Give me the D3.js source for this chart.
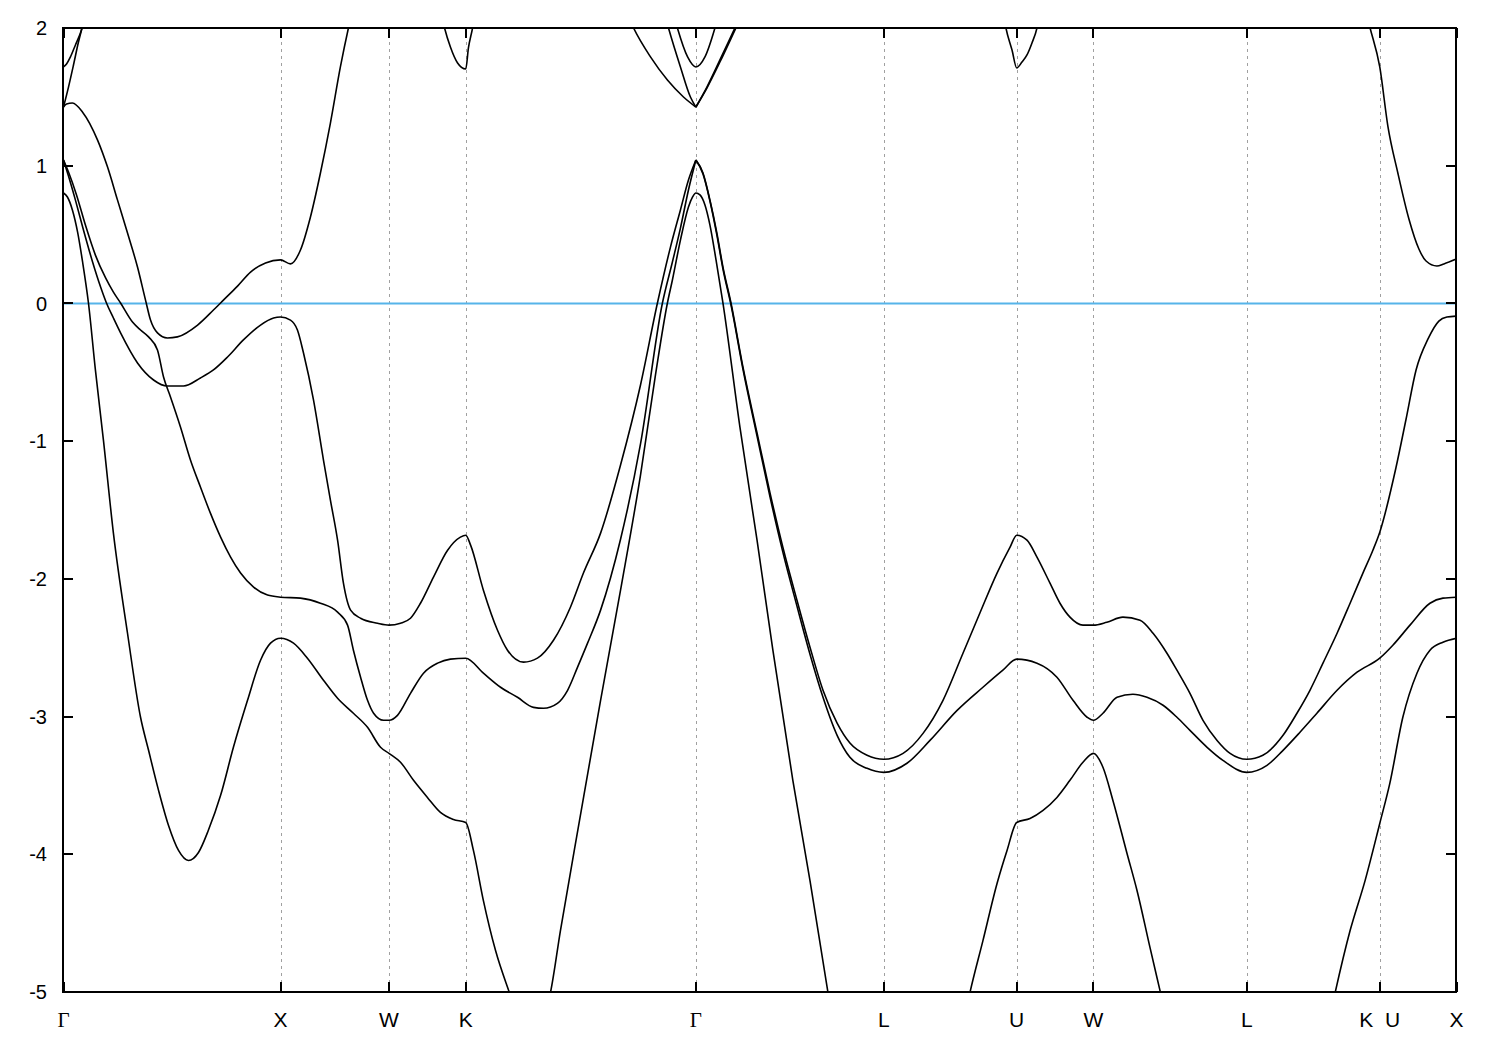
<!DOCTYPE html>
<html>
<head>
<meta charset="utf-8">
<script src="https://cdn.jsdelivr.net/npm/d3@7"></script>
<style>
  html, body { margin: 0; padding: 0; background: #fff; }
  svg { display: block; }
</style>
</head>
<body>
<script>
// ---------------- DATA ----------------
// High-symmetry points along the k-path (units of 2*pi/a)
const highSymK = [0, 1, 1.5, 1.8536, 2.9142, 3.7802, 4.3926, 4.7462, 5.4533, 6.0657, 6.4193];
const highSymLabels = ["Γ", "X", "W", "K", "Γ", "L", "U", "W", "L", "K\u00a0\u00a0U", "X"];
const energyTicks = [-5, -4, -3, -2, -1, 0, 1, 2];
const fermiLevel = 0;

// Bands: [k, E(eV)]
const bandTopA = [[0,1.717],[0.014,1.739],[0.032,1.790],[0.055,1.877],[0.078,1.964],[0.097,2.058]];
const bandTopB = [[0,1.426],[0.023,1.571],[0.046,1.731],[0.069,1.898],[0.083,1.985],[0.092,2.043]];
const bandUpper = [[0,1.426],[0.014,1.448],[0.041,1.455],[0.088,1.389],[0.157,1.186],[0.203,0.990],[0.249,0.750],[0.295,0.511],[0.341,0.264],[0.378,0.024],[0.401,-0.121],[0.433,-0.214],[0.479,-0.251],[0.525,-0.243],[0.618,-0.157],[0.691,-0.048],[0.737,0.024],[0.802,0.126],[0.862,0.228],[0.931,0.294],[1.0,0.316],[1.046,0.287],[1.092,0.388],[1.138,0.628],[1.184,0.947],[1.230,1.310],[1.276,1.717],[1.313,2.000],[1.332,2.131]];
const bandB = [[0,1.041],[0.023,0.925],[0.055,0.750],[0.092,0.533],[0.134,0.301],[0.171,0.119],[0.198,0.003],[0.230,-0.106],[0.263,-0.214],[0.341,-0.432],[0.415,-0.556],[0.479,-0.600],[0.553,-0.600],[0.631,-0.541],[0.691,-0.483],[0.756,-0.389],[0.829,-0.265],[0.908,-0.157],[0.968,-0.106],[1.0,-0.099],[1.046,-0.121],[1.078,-0.193],[1.106,-0.360],[1.152,-0.701],[1.198,-1.137],[1.230,-1.428],[1.263,-1.719],[1.290,-2.031],[1.323,-2.227],[1.369,-2.286],[1.447,-2.322],[1.5,-2.336],[1.553,-2.322],[1.599,-2.286],[1.645,-2.177],[1.705,-1.987],[1.770,-1.792],[1.829,-1.697],[1.8536,-1.683],[1.876,-1.755],[1.935,-2.082],[2.0,-2.373],[2.046,-2.518],[2.120,-2.605],[2.184,-2.576],[2.258,-2.446],[2.336,-2.206],[2.396,-1.958],[2.475,-1.668],[2.567,-1.173],[2.659,-0.592],[2.737,0.003],[2.797,0.409],[2.843,0.679],[2.880,0.896],[2.9142,1.041]];
const bandC = [[0,1.041],[0.023,0.954],[0.060,0.788],[0.101,0.569],[0.147,0.351],[0.194,0.185],[0.230,0.082],[0.263,0.003],[0.318,-0.135],[0.355,-0.193],[0.392,-0.243],[0.433,-0.338],[0.461,-0.534],[0.493,-0.679],[0.539,-0.897],[0.585,-1.137],[0.631,-1.333],[0.677,-1.523],[0.724,-1.697],[0.770,-1.842],[0.816,-1.958],[0.876,-2.060],[0.940,-2.118],[1.0,-2.133],[1.092,-2.140],[1.184,-2.177],[1.263,-2.242],[1.309,-2.336],[1.336,-2.518],[1.369,-2.714],[1.401,-2.882],[1.429,-2.976],[1.475,-3.027],[1.5,-3.027],[1.539,-2.991],[1.599,-2.831],[1.659,-2.685],[1.724,-2.612],[1.783,-2.583],[1.8536,-2.576],[1.935,-2.685],[2.014,-2.787],[2.092,-2.860],[2.166,-2.933],[2.212,-2.940],[2.276,-2.904],[2.323,-2.809],[2.369,-2.641],[2.415,-2.467],[2.475,-2.227],[2.567,-1.712],[2.659,-1.020],[2.760,0.003],[2.806,0.301],[2.843,0.547],[2.880,0.824],[2.9142,1.041]];
const bandD = [[0,0.802],[0.018,0.773],[0.041,0.679],[0.065,0.518],[0.088,0.301],[0.115,0.003],[0.147,-0.483],[0.184,-0.992],[0.230,-1.668],[0.295,-2.395],[0.355,-3.005],[0.392,-3.245],[0.438,-3.536],[0.484,-3.791],[0.530,-3.972],[0.576,-4.045],[0.622,-3.987],[0.668,-3.824],[0.724,-3.572],[0.783,-3.223],[0.848,-2.882],[0.908,-2.591],[0.954,-2.467],[1.0,-2.431],[1.060,-2.467],[1.124,-2.576],[1.198,-2.736],[1.263,-2.867],[1.336,-2.976],[1.401,-3.078],[1.461,-3.223],[1.5,-3.267],[1.553,-3.332],[1.613,-3.463],[1.677,-3.587],[1.737,-3.696],[1.797,-3.747],[1.8536,-3.769],[1.889,-3.972],[1.935,-4.336],[1.991,-4.699],[2.055,-5.005],[2.143,-5.386],[2.244,-5.005],[2.290,-4.554],[2.382,-3.718],[2.475,-2.882],[2.567,-2.082],[2.659,-1.246],[2.728,-0.519],[2.783,0.003],[2.806,0.170],[2.843,0.460],[2.880,0.700],[2.899,0.773],[2.9142,0.802],[2.933,0.788],[2.956,0.715],[2.979,0.569],[3.007,0.316],[3.039,0.003],[3.117,-0.897],[3.196,-1.719],[3.269,-2.518],[3.361,-3.463],[3.440,-4.191],[3.523,-5.005],[3.624,-5.92],[3.7802,-6.43],[3.993,-5.85],[4.131,-5.35],[4.177,-5.005],[4.237,-4.627],[4.302,-4.212],[4.348,-3.972],[4.3926,-3.769],[4.454,-3.740],[4.514,-3.681],[4.578,-3.587],[4.638,-3.463],[4.698,-3.332],[4.7462,-3.267],[4.790,-3.368],[4.836,-3.609],[4.901,-3.994],[4.947,-4.263],[5.007,-4.678],[5.053,-4.990],[5.191,-5.93],[5.4533,-6.36],[5.698,-5.78],[5.813,-5.35],[5.860,-5.005],[5.929,-4.554],[5.998,-4.191],[6.0657,-3.776],[6.112,-3.485],[6.172,-3.005],[6.237,-2.685],[6.297,-2.518],[6.357,-2.460],[6.4193,-2.431]];
const bandG = [[2.9142,1.041],[2.947,0.947],[2.979,0.750],[3.011,0.511],[3.039,0.264],[3.076,0.003],[3.131,-0.461],[3.196,-0.941],[3.256,-1.377],[3.315,-1.770],[3.380,-2.155],[3.440,-2.496],[3.500,-2.809],[3.565,-3.047],[3.624,-3.192],[3.703,-3.281],[3.7802,-3.310],[3.869,-3.267],[3.961,-3.122],[4.053,-2.882],[4.145,-2.540],[4.223,-2.248],[4.302,-1.958],[4.362,-1.770],[4.3926,-1.683],[4.440,-1.719],[4.486,-1.842],[4.546,-2.031],[4.592,-2.177],[4.638,-2.278],[4.698,-2.336],[4.7462,-2.336],[4.808,-2.315],[4.882,-2.278],[4.961,-2.300],[5.021,-2.395],[5.085,-2.540],[5.131,-2.663],[5.191,-2.831],[5.251,-3.027],[5.316,-3.173],[5.376,-3.267],[5.4533,-3.310],[5.527,-3.281],[5.620,-3.136],[5.684,-2.976],[5.744,-2.809],[5.804,-2.612],[5.869,-2.395],[5.929,-2.177],[5.988,-1.958],[6.034,-1.792],[6.0657,-1.661],[6.140,-1.195],[6.187,-0.839],[6.233,-0.483],[6.288,-0.258],[6.338,-0.128],[6.375,-0.099],[6.4193,-0.092]];
const bandH = [[2.9142,1.041],[2.947,0.940],[2.979,0.744],[3.011,0.496],[3.039,0.250],[3.076,-0.011],[3.131,-0.476],[3.196,-0.963],[3.256,-1.406],[3.315,-1.806],[3.380,-2.198],[3.440,-2.547],[3.500,-2.860],[3.565,-3.136],[3.624,-3.296],[3.703,-3.376],[3.7802,-3.405],[3.887,-3.339],[3.993,-3.173],[4.118,-2.955],[4.237,-2.787],[4.329,-2.663],[4.3926,-2.583],[4.486,-2.612],[4.578,-2.714],[4.652,-2.882],[4.717,-3.005],[4.7462,-3.027],[4.790,-2.976],[4.855,-2.860],[4.928,-2.838],[4.993,-2.860],[5.067,-2.918],[5.131,-3.005],[5.191,-3.100],[5.270,-3.223],[5.343,-3.318],[5.4533,-3.405],[5.546,-3.354],[5.620,-3.245],[5.698,-3.114],[5.776,-2.976],[5.869,-2.809],[5.961,-2.678],[6.0657,-2.576],[6.126,-2.482],[6.205,-2.336],[6.297,-2.177],[6.357,-2.140],[6.4193,-2.133]];
const bandKvalley = [[1.737,2.131],[1.756,2.000],[1.783,1.862],[1.816,1.746],[1.8536,1.702],[1.866,1.855],[1.885,2.000],[1.899,2.131]];
const bandUvalley = [[4.336,2.058],[4.343,2.000],[4.371,1.840],[4.3926,1.710],[4.417,1.753],[4.440,1.804],[4.463,1.891],[4.486,2.000],[4.500,2.116]];
const bandKUtoX = [[6.002,2.116],[6.021,2.000],[6.0657,1.717],[6.103,1.288],[6.149,0.947],[6.200,0.613],[6.246,0.395],[6.279,0.308],[6.329,0.272],[6.361,0.287],[6.4193,0.323]];
const bandGammaP = [[2.590,2.131],[2.627,2.000],[2.705,1.790],[2.783,1.622],[2.857,1.499],[2.9142,1.426]];
const bandGammaQ = [[2.770,2.102],[2.788,2.000],[2.843,1.717],[2.889,1.499],[2.9142,1.426]];
const bandGammaR = [[2.806,2.131],[2.829,2.000],[2.876,1.790],[2.9142,1.717],[2.956,1.790],[3.002,2.000],[3.020,2.102]];
const bandGammaS1 = [[2.9142,1.426],[2.965,1.571],[3.025,1.768],[3.094,2.000],[3.122,2.094]];
const bandGammaS2 = [[2.9142,1.426],[2.965,1.564],[3.025,1.753],[3.094,1.985],[3.122,2.080]];

const bands = [bandTopA, bandTopB, bandUpper, bandB, bandC, bandD, bandG, bandH,
               bandKvalley, bandUvalley, bandKUtoX, bandGammaP, bandGammaQ, bandGammaR,
               bandGammaS1, bandGammaS2];

// ---------------- CHART ----------------
const svgW = 1500, svgH = 1050;
const plotL = 63, plotR = 1456, plotT = 28, plotB = 992;

const svg = d3.select("body").append("svg").attr("width", svgW).attr("height", svgH)
  .style("background", "#fff");

const x = d3.scaleLinear().domain([highSymK[0], highSymK[highSymK.length - 1]]).range([plotL + 0.5, plotR + 0.5]);
const y = d3.scaleLinear().domain([-5, 2]).range([plotB, plotT]);

svg.append("defs").append("clipPath").attr("id", "clip")
  .append("rect").attr("x", plotL).attr("y", plotT).attr("width", plotR - plotL).attr("height", plotB - plotT);

// vertical dashed grid at interior high-symmetry points
svg.append("g").selectAll("line").data(highSymK.slice(1, -1)).join("line")
  .attr("x1", d => Math.round(x(d)) + 0.5).attr("x2", d => Math.round(x(d)) + 0.5)
  .attr("y1", plotT).attr("y2", plotB)
  .attr("stroke", "#a0a0a0").attr("stroke-width", 1).attr("stroke-dasharray", "3,4");

// Fermi level
svg.append("line").attr("x1", plotL).attr("x2", plotR)
  .attr("y1", y(fermiLevel)).attr("y2", y(fermiLevel))
  .attr("stroke", "#56b4e9").attr("stroke-width", 2);

// bands
const bandLine = d3.line().x(d => x(d[0])).y(d => y(d[1])).curve(d3.curveMonotoneX);
svg.append("g").attr("clip-path", "url(#clip)").selectAll("path").data(bands).join("path")
  .attr("d", bandLine).attr("fill", "none").attr("stroke", "#000").attr("stroke-width", 1.6)
  .attr("stroke-linejoin", "round");

// border
svg.append("rect").attr("x", plotL).attr("y", plotT).attr("width", plotR - plotL).attr("height", plotB - plotT)
  .attr("fill", "none").attr("stroke", "#000").attr("stroke-width", 2);

// y ticks (left and right, inward)
const yt = svg.append("g");
energyTicks.forEach(v => {
  const yy = Math.round(y(v));
  yt.append("line").attr("x1", plotL).attr("x2", plotL + 10).attr("y1", yy).attr("y2", yy)
    .attr("stroke", "#000").attr("stroke-width", 2);
  yt.append("line").attr("x1", plotR).attr("x2", plotR - 10).attr("y1", yy).attr("y2", yy)
    .attr("stroke", "#000").attr("stroke-width", 2);
});
svg.append("g").selectAll("text").data(energyTicks).join("text")
  .attr("x", 47).attr("y", d => y(d)).attr("dy", "0.36em")
  .attr("text-anchor", "end").attr("font-family", "'Liberation Sans', Arial, sans-serif")
  .attr("font-size", 20).attr("fill", "#000").text(d => d);

// x ticks (bottom and top, inward)
const xt = svg.append("g");
highSymK.forEach(k => {
  const xx = Math.round(x(k));
  xt.append("line").attr("x1", xx).attr("x2", xx).attr("y1", plotB).attr("y2", plotB - 10)
    .attr("stroke", "#000").attr("stroke-width", 2);
  xt.append("line").attr("x1", xx).attr("x2", xx).attr("y1", plotT).attr("y2", plotT + 10)
    .attr("stroke", "#000").attr("stroke-width", 2);
});
svg.append("g").selectAll("text").data(highSymK).join("text")
  .attr("x", d => x(d)).attr("y", 1027)
  .attr("text-anchor", "middle")
  .attr("font-family", (d, i) => highSymLabels[i] === "Γ" ? "'Liberation Serif', 'DejaVu Serif', serif" : "'Liberation Sans', Arial, sans-serif")
  .attr("font-size", 21).attr("fill", "#000")
  .text((d, i) => highSymLabels[i]);
</script>
</body>
</html>
